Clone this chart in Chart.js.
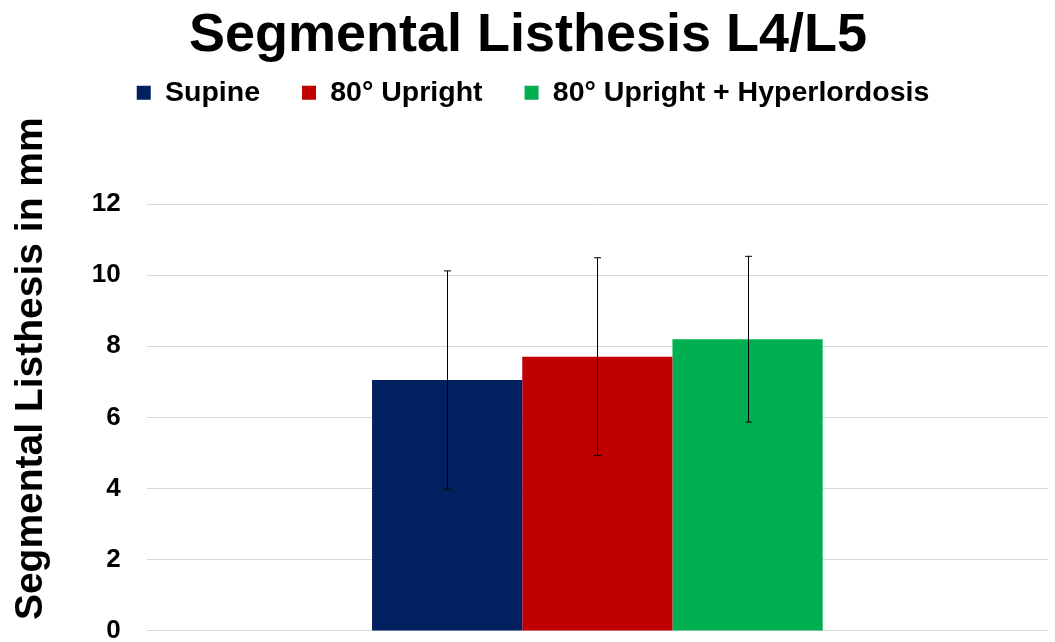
<!DOCTYPE html>
<html>
<head>
<meta charset="utf-8">
<script src="https://cdn.jsdelivr.net/npm/chart.js@4"></script>
<style>
  body { margin: 0; background: #fff; }
  #wrap { width: 1055px; height: 642px; }
</style>
</head>
<body>
<div id="wrap"><canvas id="mycanvas"></canvas></div>
<script>
// data
var categories = ['L4/L5'];
var seriesNames = ['Supine', '80° Upright', '80° Upright + Hyperlordosis'];
var seriesMeans = [7.05, 7.71, 8.2];
var seriesSD = [3.07, 2.78, 2.33];
var seriesColors = ['#002060', '#C00000', '#00B050'];
var yTicks = [0, 2, 4, 6, 8, 10, 12];

var fontFam = '"Liberation Sans", Arial, sans-serif';

// error bars drawn on top of each bar, using the y scale
var errorBars = {
    id: 'errorBars',
    afterDatasetsDraw: function (chart) {
        var ctx = chart.ctx;
        var y = chart.scales.y;
        ctx.save();
        ctx.strokeStyle = '#000';
        ctx.lineWidth = 1;
        for (var i = 0; i < seriesMeans.length; i++) {
            var bar = chart.getDatasetMeta(i).data[0];
            var x = Math.round(bar.x) + 0.5;
            var top = y.getPixelForValue(seriesMeans[i] + seriesSD[i]);
            var bot = y.getPixelForValue(seriesMeans[i] - seriesSD[i]);
            ctx.beginPath();
            ctx.moveTo(x, top); ctx.lineTo(x, bot);
            ctx.moveTo(x - 3.5, top); ctx.lineTo(x + 3.5, top);
            ctx.moveTo(x - 3.5, bot); ctx.lineTo(x + 3.5, bot);
            ctx.stroke();
        }
        ctx.restore();
    }
};

// push the plot down below the legend, nudge the legend row right
var legendGap = {
    id: 'legendGap',
    beforeInit: function (chart) {
        var fit = chart.legend.fit;
        chart.legend.fit = function () {
            fit.bind(chart.legend)();
            this.height += 87;
        };
    },
    afterLayout: function (chart) {
        chart.legend.left += 5;
        chart.legend.right += 5;
    }
};

var datasets = [];
for (var i = 0; i < seriesNames.length; i++) {
    datasets.push({
        label: seriesNames[i],
        data: [seriesMeans[i]],
        backgroundColor: seriesColors[i],
        borderWidth: 0,
        barPercentage: 1.0,
        categoryPercentage: 0.5
    });
}

var ctx = document.getElementById('mycanvas').getContext('2d');
var myChart = new Chart(ctx, {
    type: 'bar',
    data: { labels: categories, datasets: datasets },
    plugins: [errorBars, legendGap],
    options: {
        responsive: true,
        maintainAspectRatio: false,
        animation: false,
        layout: { padding: { left: 8, right: 7, top: 0, bottom: 0 } },
        plugins: {
            title: {
                display: true,
                text: 'Segmental Listhesis L4/L5',
                color: '#000',
                font: { family: fontFam, size: 54, weight: 'bold' },
                padding: { top: 3.6, bottom: -31.9 }
            },
            legend: {
                display: true,
                position: 'top',
                labels: {
                    color: '#000',
                    font: { family: fontFam, size: 28.5, weight: 'bold' },
                    boxWidth: 14,
                    boxHeight: 14,
                    padding: 42
                }
            },
            tooltip: { enabled: false }
        },
        scales: {
            x: {
                display: false
            },
            y: {
                min: 0,
                max: 12,
                afterBuildTicks: function (scale) {
                    scale.ticks = yTicks.map(function (v) { return { value: v }; });
                },
                grid: { color: '#d9d9d9', lineWidth: 1, drawTicks: true, tickLength: 26, tickColor: 'rgba(0,0,0,0)' },
                border: { display: false },
                ticks: {
                    color: '#000',
                    padding: 0,
                    font: { family: fontFam, size: 26, weight: 'bold', lineHeight: 0.85 }
                },
                title: {
                    display: true,
                    text: ' Segmental Listhesis in mm',
                    align: 'start',
                    color: '#000',
                    font: { family: fontFam, size: 39, weight: 'bold' },
                    padding: { top: 0, bottom: 37 }
                }
            }
        }
    }
});
</script>
</body>
</html>
